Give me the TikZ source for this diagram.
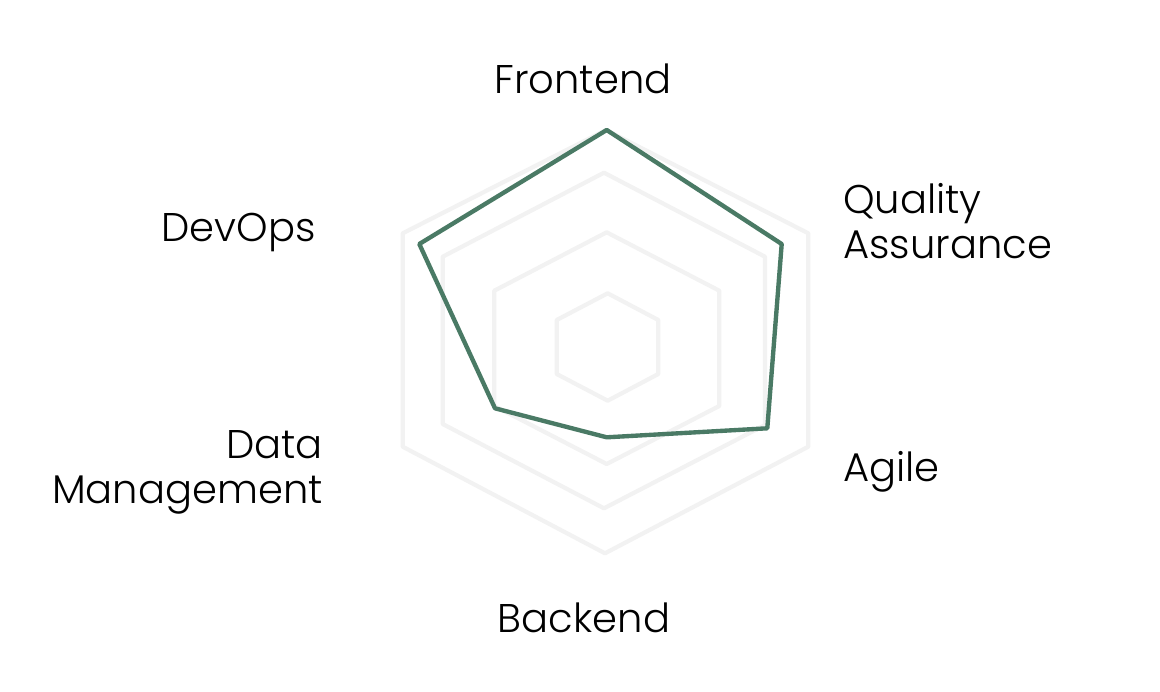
\documentclass[tikz,border=0pt]{standalone}
\usepackage{fontspec}
\IfFontExistsTF{Poppins Light}{\setmainfont{Poppins Light}}{\setmainfont{Poppins}}
\usepackage{tikz}
\usepackage{tkz-euclide}
\definecolor{radargreen}{HTML}{4A7A65}
\definecolor{radargrid}{HTML}{F2F2F2}
\tikzset{axislabel/.style={inner sep=0pt, font=\fontsize{28.5}{34}\selectfont}}

\begin{document}
\begin{tikzpicture}[x=0.025cm,y=-0.025cm]
                \useasboundingbox (0,0) rectangle (1160,692);
                % grid rings, inner to outer
                \tkzDefPoint(607.7,293.3){Aa} \tkzDefPoint(658.3,320){Ab}
                \tkzDefPoint(658.3,374){Ac} \tkzDefPoint(607.7,400.7){Ad}
                \tkzDefPoint(556.7,374){Ae} \tkzDefPoint(556.7,320){Af}
                \tkzDefPoint(606.7,232.3){Ba} \tkzDefPoint(719.3,290.7){Bb}
                \tkzDefPoint(719.3,406){Bc} \tkzDefPoint(606.7,464){Bd}
                \tkzDefPoint(494.3,406){Be} \tkzDefPoint(494.3,290.7){Bf}
                \tkzDefPoint(604,172.7){Ca} \tkzDefPoint(765,256.7){Cb}
                \tkzDefPoint(765,425){Cc} \tkzDefPoint(604,508.3){Cd}
                \tkzDefPoint(442.7,424){Ce} \tkzDefPoint(442.7,256.7){Cf}
                \tkzDefPoint(606,130){Da} \tkzDefPoint(808.3,233.3){Db}
                \tkzDefPoint(808.3,446.7){Dc} \tkzDefPoint(605,553.3){Dd}
                \tkzDefPoint(402.7,446.7){De} \tkzDefPoint(402.7,233.3){Df}
                \tkzDrawPolygon[draw=radargrid, line width=3pt](Aa,Ab,Ac,Ad,Ae,Af)
                \tkzDrawPolygon[draw=radargrid, line width=3pt](Ba,Bb,Bc,Bd,Be,Bf)
                \tkzDrawPolygon[draw=radargrid, line width=3pt](Ca,Cb,Cc,Cd,Ce,Cf)
                \tkzDrawPolygon[draw=radargrid, line width=3pt](Da,Db,Dc,Dd,De,Df)
                % scores
                \tkzDefPoint(606.7,130){Fe}
                \tkzDefPoint(781.7,244){Qa}
                \tkzDefPoint(767.3,428.3){Ag}
                \tkzDefPoint(606.7,437.3){Bk}
                \tkzDefPoint(495,408.3){Dm}
                \tkzDefPoint(419.3,244){Do}
                \tkzDrawPolygon[draw=radargreen, line width=3.1pt, line join=round](Fe,Qa,Ag,Bk,Dm,Do)
                % axis labels
                \node[axislabel, anchor=base] (front) at (583,93) {Frontend};
                \node[axislabel, anchor=base west] (qual) at (843,213) {Quality};
                \node[axislabel, anchor=base west] (assur) at (843,258) {Assurance};
                \node[axislabel, anchor=base west] (agile) at (843,481) {Agile};
                \node[axislabel, anchor=base] (back) at (584,632) {Backend};
                \node[axislabel, anchor=base east] (data) at (323,458) {Data};
                \node[axislabel, anchor=base east] (manag) at (323,503) {Management};
                \node[axislabel, anchor=base east] (devops) at (316,241) {DevOps};
            \end{tikzpicture}
\end{document}
